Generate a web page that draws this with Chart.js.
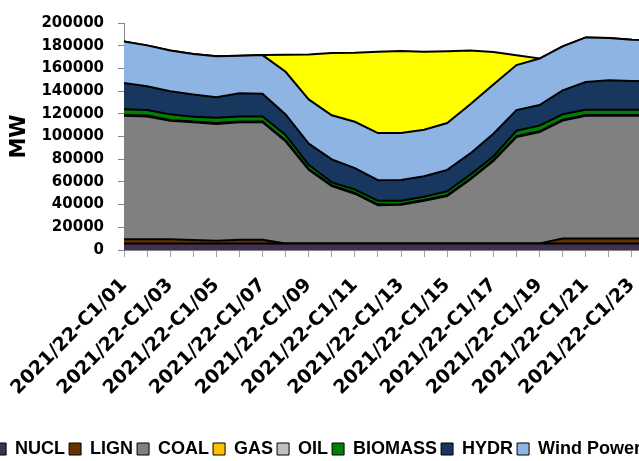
<!DOCTYPE html>
<html>
<head>
<meta charset="utf-8">
<script src="https://cdn.jsdelivr.net/npm/chart.js@4"></script>
<style>
  html, body { margin: 0; padding: 0; background: #fff; overflow: hidden; }
  #wrap { position: absolute; left: -20px; top: 0; width: 675px; height: 468px; }
</style>
</head>
<body>
<div id="wrap"><canvas id="chart" width="675" height="468"></canvas></div>
<script>
const categories = [
  '2021/22-C1/01', '2021/22-C1/02', '2021/22-C1/03', '2021/22-C1/04',
  '2021/22-C1/05', '2021/22-C1/06', '2021/22-C1/07', '2021/22-C1/08',
  '2021/22-C1/09', '2021/22-C1/10', '2021/22-C1/11', '2021/22-C1/12',
  '2021/22-C1/13', '2021/22-C1/14', '2021/22-C1/15', '2021/22-C1/16',
  '2021/22-C1/17', '2021/22-C1/18', '2021/22-C1/19', '2021/22-C1/20',
  '2021/22-C1/21', '2021/22-C1/22', '2021/22-C1/23', '2021/22-C1/24'
];

// MW per hour
const nucl = [5800, 5800, 5800, 5800, 5800, 5800, 5800, 5800, 5800, 5800, 5800, 5800,
              5800, 5800, 5800, 5800, 5800, 5800, 5800, 5800, 5800, 5800, 5800, 5800];
const lign = [3700, 3700, 3600, 3000, 2300, 3200, 3200, 0, 0, 0, 0, 0,
              0, 0, 0, 0, 0, 0, 0, 4300, 4300, 4300, 4300, 4300];
const coal = [108800, 108200, 104500, 103800, 103000, 103600, 103600, 90000, 64900, 50500, 43800, 33700,
              34000, 37500, 41800, 56300, 72700, 93800, 98100, 103900, 108200, 108200, 108200, 108200];
const gas = [0, 0, 0, 0, 0, 0, 0, 15000, 39600, 54900, 60700, 71600,
             72200, 68700, 63200, 47400, 28600, 8600, 0, 0, 0, 0, 0, 0];
const oil = [700, 700, 700, 700, 700, 700, 700, 700, 700, 700, 700, 700,
             700, 700, 700, 700, 700, 700, 700, 700, 700, 700, 700, 700];
const biomass = [5000, 5000, 4900, 4200, 4800, 4400, 4400, 4800, 3600, 2600, 3000, 3100,
                 2900, 2900, 3500, 3600, 3200, 4800, 5000, 4900, 4500, 4500, 4500, 4500];
const hydr = [23100, 20800, 20300, 19600, 17900, 20300, 20000, 18100, 18800, 20200, 18800, 18200,
              18200, 18100, 18800, 18700, 20100, 18200, 18100, 21100, 24500, 26000, 25400, 25100];
const wind = [36600, 36100, 36000, 35500, 36100, 33200, 34000, 37600, 38900, 38900, 40900, 41500,
              41500, 41000, 41300, 43300, 43300, 39600, 41000, 38700, 39300, 37200, 36400, 36100];

const legendOrder = ['NUCL', 'LIGN', 'COAL', 'GAS', 'OIL', 'BIOMASS', 'HYDR', 'Wind Power'];

const colors = {
  'NUCL': '#403152',
  'LIGN': '#663300',
  'COAL': '#808080',
  'OIL': '#C0C0C0',
  'BIOMASS': '#008000',
  'HYDR': '#17375E',
  'Wind Power': '#8EB4E3',
  'GAS': '#FFFF00'
};
const legendColors = Object.assign({}, colors, { 'GAS': '#FFC000' });

// stacking order as it appears in the picture (gas sits on top)
const stackOrder = [
  ['NUCL', nucl], ['LIGN', lign], ['COAL', coal], ['OIL', oil],
  ['BIOMASS', biomass], ['HYDR', hydr], ['Wind Power', wind], ['GAS', gas]
];

const datasets = stackOrder.map(([name, values], i) => ({
  label: name,
  data: values,
  backgroundColor: colors[name],
  borderColor: '#000',
  borderWidth: 2,
  pointRadius: 0,
  tension: 0,
  fill: i === 0 ? 'origin' : '-1'
}));

const ctx = document.getElementById('chart').getContext('2d');
new Chart(ctx, {
  type: 'line',
  data: { labels: categories, datasets: datasets },
  options: {
    responsive: false,
    animation: false,
    layout: { padding: { top: 19, right: 0, bottom: 0, left: 0 } },
    plugins: {
      tooltip: { enabled: false },
      legend: {
        position: 'bottom',
        labels: {
          font: { family: 'Liberation Sans', weight: 'bold', size: 18 },
          color: '#000',
          boxWidth: 12,
          boxHeight: 12,
          padding: 4,
          generateLabels: chart => legendOrder.map(name => ({
            text: name,
            fillStyle: legendColors[name],
            strokeStyle: '#000',
            lineWidth: 1,
            hidden: false,
            fontColor: '#000',
            datasetIndex: chart.data.datasets.findIndex(d => d.label === name)
          }))
        }
      }
    },
    scales: {
      x: {
        offset: false,
        grid: { drawOnChartArea: false, tickLength: 7, color: '#a0a0a0' },
        border: { color: '#868686', width: 1 },
        ticks: {
          autoSkip: false,
          maxRotation: 45,
          minRotation: 45,
          padding: 17,
          color: '#000',
          font: { family: 'DejaVu Sans', weight: 'bold', size: 19 },
          callback: function (value, index) {
            return index % 2 === 0 ? this.getLabelForValue(value) : '';
          }
        },
        afterFit: s => { s.height = 186; s.paddingLeft = 0; s.paddingRight = 0; }
      },
      y: {
        stacked: true,
        min: 0,
        max: 200000,
        grid: { drawOnChartArea: false, tickLength: 6, color: '#868686' },
        border: { color: '#868686', width: 1 },
        ticks: {
          stepSize: 20000,
          autoSkip: false,
          padding: 14,
          color: '#000',
          font: { family: 'DejaVu Sans', weight: 'bold', size: 15 },
          callback: v => String(v)
        },
        title: {
          display: true,
          text: 'MW',
          color: '#000',
          padding: { top: 27, bottom: 0 },
          font: { family: 'DejaVu Sans', weight: 'bold', size: 21 }
        },
        afterFit: s => { s.width = 144; }
      }
    }
  }
});
</script>
</body>
</html>
